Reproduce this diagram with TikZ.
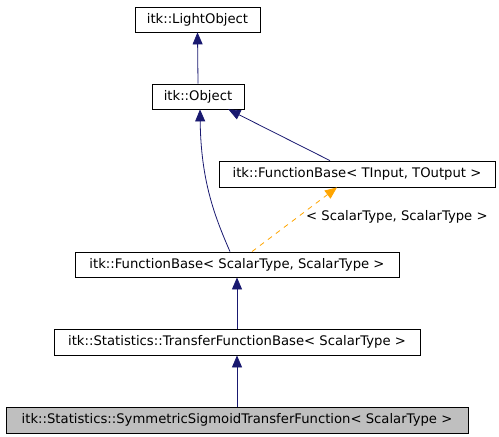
\documentclass[tikz,border=0pt]{standalone}
\usepackage{fontspec}
\setmainfont{DejaVu Sans}
\usetikzlibrary{arrows.meta}
\definecolor{edgeblue}{HTML}{191970}
\definecolor{edgeorange}{HTML}{FFA500}
\definecolor{boxgray}{HTML}{BFBFBF}
\tikzset{
  lblfont/.style={font=\fontsize{13.2}{15}\selectfont},
  cls/.style={draw=black, line width=0.8pt, inner sep=0pt, lblfont},
  inh/.style={draw=edgeblue, line width=0.8pt, -{Triangle[length=12pt,width=10pt]}, fill=none},
  tmpl/.style={draw=edgeorange, line width=0.8pt, dashed, dash pattern=on 5pt off 5pt, -{Triangle[length=12pt,width=10pt]}},
}
\begin{document}
\begin{tikzpicture}[x=1pt,y=-1pt]
\useasboundingbox (0,0) rectangle (499,437);
\node[cls, minimum width=125pt, minimum height=25pt] (light) at (197.5,19.5) {itk::LightObject};
\node[cls, minimum width=92pt, minimum height=25pt] (obj) at (198,96.5) {itk::Object};
\node[cls, minimum width=276pt, minimum height=26pt] (fbt) at (357,174) {itk::FunctionBase< TInput, TOutput >};
\node[cls, minimum width=324pt, minimum height=25pt] (fbs) at (237,264.5) {itk::FunctionBase< ScalarType, ScalarType >};
\node[cls, minimum width=366pt, minimum height=26pt] (tfb) at (237,342) {itk::Statistics::TransferFunctionBase< ScalarType >};
\node[cls, fill=boxgray, minimum width=462pt, minimum height=26pt] (sym) at (237,420) {itk::Statistics::SymmetricSigmoidTransferFunction< ScalarType >};
\draw[inh] (obj.north) -- (light.south);
\draw[inh] ([xshift=-27pt]fbt.north) -- ([xshift=-16pt]obj.south east);
\draw[inh] ([xshift=-7pt]fbs.north) .. controls (214,215) and (201,180) .. ([xshift=2pt]obj.south);
\draw[tmpl] ([xshift=15pt]fbs.north) -- ([xshift=-20pt]fbt.south);
\node[lblfont, anchor=west, inner sep=0pt] (lbl) at (306,217) {< ScalarType, ScalarType >};
\draw[inh] (tfb.north) -- (fbs.south);
\draw[inh] (sym.north) -- (tfb.south);
\end{tikzpicture}
\end{document}
